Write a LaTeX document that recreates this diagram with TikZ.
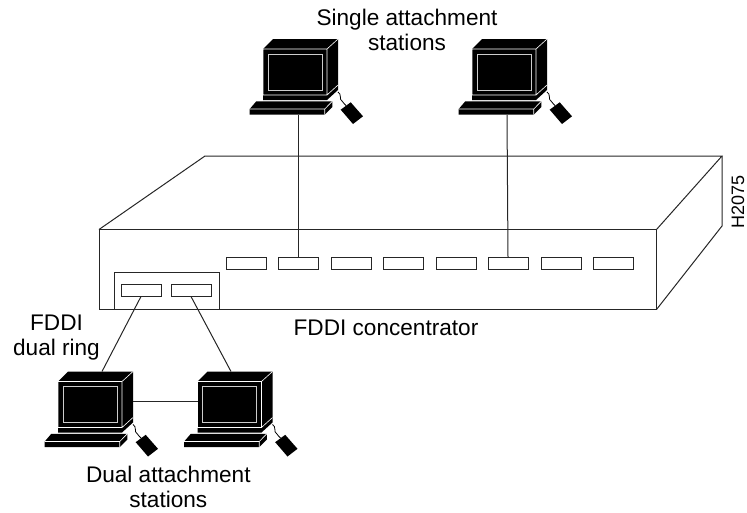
\documentclass[tikz,border=0pt]{standalone}
\usepackage{fontspec}
\setmainfont{Liberation Sans}
\tikzset{
  wire/.style={line width=1pt,draw=black!85},
  label/.style={font=\fontsize{22.6}{25}\selectfont,align=center,inner sep=0pt},
  port/.style={draw=black!85,line width=1pt,fill=white,minimum width=40pt,minimum height=12pt,inner sep=0pt},
  pics/station/.style={code={
    \fill[black] (0,0)--(10,-10)--(75,-10)--(75,41)--(64,51)--(0,51)--cycle;
    \draw[white,line width=.6pt] (0,0)--(64,0)--(64,46)--(0,46)--cycle (64,0)--(75,-10) (64,46)--(75,36);
    \draw[white!80!black,line width=.9pt] (5,5) rectangle (59,41);
    \fill[black] (-6.7,52.3)--(69.3,52.3)--(69.3,58)--(61.7,65.7)--(-13.3,65.7)--(-13.3,60)--cycle;
    \draw[white,line width=.6pt] (-13.3,60)--(61.7,60)--(69.3,52.3) (61.7,60)--(61.7,65.7);
    \draw[black,line width=.8pt] (75,43) .. controls (79,45) and (76,51) .. (79,52) .. controls (82,53) and (80,56) .. (83,56.5);
    \fill[black] (77.7,60.7)--(87.7,53.3)--(100,67.3)--(90,75)--cycle;
  }}
}
\begin{document}
\begin{tikzpicture}[x=1pt,y=-1pt]
\useasboundingbox (0,0) rectangle (747,512);
\draw[wire] (99,229.5) rectangle (656.5,309.5);
\draw[wire] (99,229.5)--(205,156)--(722,156)--(656.5,229.5);
\draw[wire] (722,156)--(722,226)--(656.5,309.5);
\foreach \n/\x in {1/246,2/298,3/351,4/403,5/456,6/508,7/561,8/613}
  \node[port] (p\n) at (\x,263.5) {};
\draw[wire] (114.5,309.5)--(114.5,272.5)--(219.5,272.5)--(219.5,309.5);
\node[port] (d1) at (141,290) {};
\node[port] (d2) at (191,290) {};
\pic at (263,49) {station};
\pic at (472,49) {station};
\pic at (58,381.5) {station};
\pic at (197.5,381.5) {station};
\coordinate (s1) at (298,115);
\coordinate (s2) at (507,115);
\coordinate (b1) at (102,371.5);
\coordinate (b2) at (231,371.5);
\coordinate (h1) at (133,401);
\coordinate (h2) at (198,401);
\draw[wire] (s1)--(p2.north);
\draw[wire] (s2)--(p6.north);
\draw[wire] (d1.south)--(b1);
\draw[wire] (d2.south)--(b2);
\draw[wire] (h1)--(h2);
\node[label] (t1) at (407,30) {Single attachment\\stations};
\node[label] (t2) at (386,328) {FDDI concentrator};
\node[label] (t3) at (56.5,338) {FDDI\\dual ring};
\node[label] (t4) at (168.3,487) {Dual attachment\\stations};
\node[label,font=\fontsize{18}{22}\selectfont,rotate=90] (t5) at (738,201.7) {H2075};
\end{tikzpicture}
\end{document}
